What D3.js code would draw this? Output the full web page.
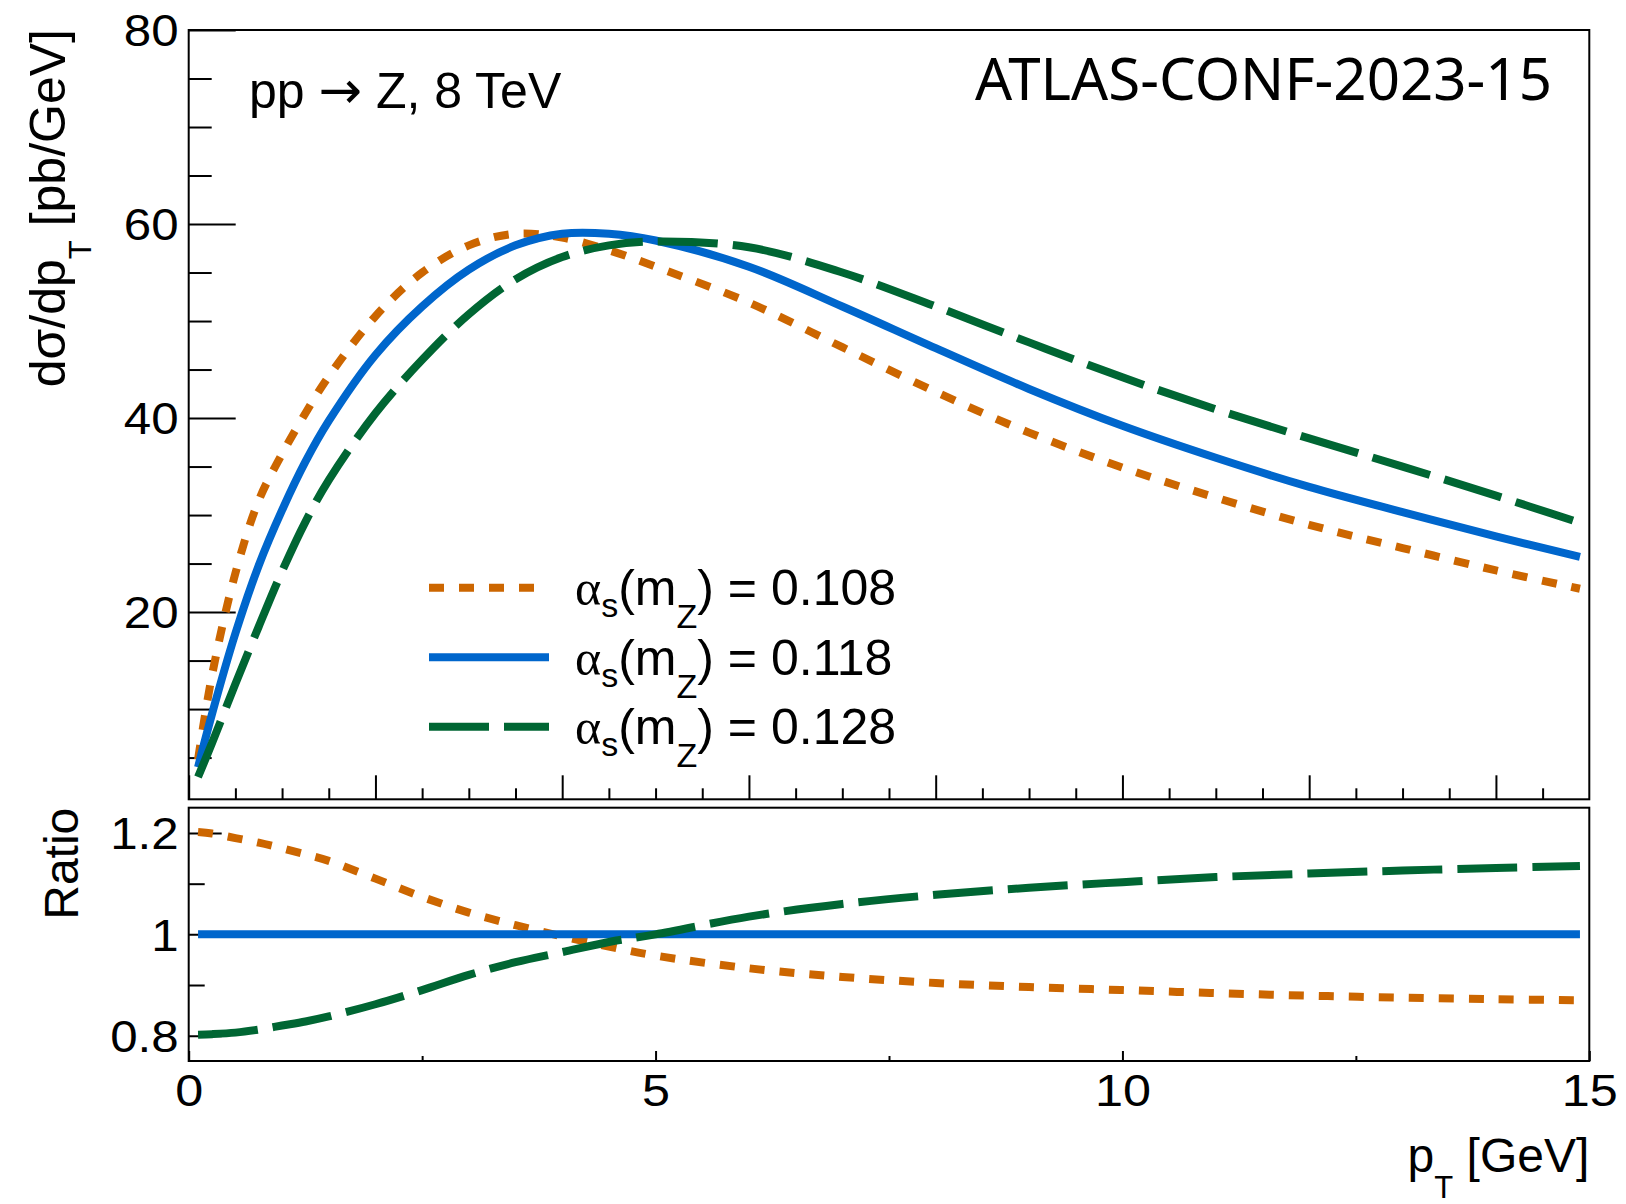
<!DOCTYPE html>
<html>
<head>
<meta charset="utf-8">
<script src="https://cdn.jsdelivr.net/npm/d3@7"></script>
<style>
  body { margin: 0; background: #fff; }
  svg { display: block; }
  text { font-family: "Liberation Sans", Arial, Helvetica, sans-serif; fill: #000; }
</style>
</head>
<body>
<div id="chart"></div>
<script>
// ---------- data ----------
const ptGrid   = [0.1, 0.25, 0.5, 0.75, 1, 1.25, 1.5, 2, 2.5, 3, 3.5, 4, 4.5, 5, 6, 7, 8, 9, 10, 11, 12, 13, 14, 14.9];
const sigma108 = [4.8, 13.5, 24.0, 31.5, 36.3, 40.5, 44.3, 50.5, 55.0, 57.8, 59.0, 58.6, 57.3, 55.6, 51.9, 47.3, 42.7, 38.5, 34.9, 31.8, 29.0, 26.6, 24.3, 22.4];
const sigma118 = [4.0, 9.5, 17.8, 24.8, 30.5, 35.5, 39.7, 46.5, 51.5, 55.3, 57.8, 59.0, 59.0, 58.3, 55.6, 51.5, 47.2, 43.0, 39.2, 35.9, 32.9, 30.3, 27.8, 25.7];
const sigma128 = [3.0, 6.5, 12.6, 18.5, 24.2, 29.3, 33.6, 40.5, 46.0, 50.7, 54.3, 56.6, 57.8, 58.2, 57.6, 55.0, 51.5, 47.8, 44.2, 40.9, 37.9, 35.0, 32.0, 29.2];
const ratio108 = [1.202, 1.199, 1.19, 1.181, 1.17, 1.158, 1.145, 1.11, 1.074, 1.043, 1.018, 0.996, 0.976, 0.958, 0.933, 0.916, 0.904, 0.896, 0.89, 0.884, 0.879, 0.875, 0.872, 0.870];
const ratio118 = [1, 1, 1, 1, 1, 1, 1, 1, 1, 1, 1, 1, 1, 1, 1, 1, 1, 1, 1, 1, 1, 1, 1, 1];
const ratio128 = [0.802, 0.803, 0.806, 0.812, 0.82, 0.828, 0.838, 0.862, 0.89, 0.92, 0.945, 0.965, 0.985, 1.0, 1.035, 1.06, 1.078, 1.092, 1.103, 1.113, 1.12, 1.126, 1.131, 1.135];

const alphaValues = ["0.108", "0.118", "0.128"];
const seriesColors = ["#cc6600", "#0066cc", "#006633"];
const seriesDash   = ["15,15", null, "60,15"];

const yTopMajor = [20, 40, 60, 80];
const yTopMinor = d3.range(5, 80, 5).filter(v => v % 20 !== 0);
const xTopMajor = d3.range(0, 15, 2);
const xTopMinor = d3.range(0.5, 15, 0.5).filter(v => v % 2 !== 0);
const yRatioMajor = [0.8, 1, 1.2];
const yRatioMinor = [0.9, 1.1];
const xRatioMajor = [0, 5, 10, 15];
const xRatioMinor = [2.5, 7.5, 12.5];

// ---------- layout ----------
const W = 1626, H = 1204;
const L = 188.7, R = 1589.3;
const topY0 = 30, topY1 = 799.3;
const botY0 = 807.7, botY1 = 1061;
const labelStretch = "scale(1.12,1)";

const svg = d3.select("#chart").append("svg")
  .attr("width", W).attr("height", H);

const x = d3.scaleLinear().domain([0, 15]).range([L, R]);
const yTop = d3.scaleLinear().domain([0.7, 80]).range([topY1, topY0]);
const yBot = d3.scaleLinear().domain([0.75, 1.25]).range([botY1, botY0]);

function styleAxis(g) {
  g.select(".domain").remove();
  g.selectAll(".tick line").attr("stroke", "#000").attr("stroke-width", 2);
}

// top panel ticks
svg.append("g").attr("transform", `translate(${L},0)`)
  .call(d3.axisLeft(yTop).tickValues(yTopMinor).tickSize(-23).tickFormat(""))
  .call(styleAxis);
svg.append("g").attr("transform", `translate(${L},0)`)
  .call(d3.axisLeft(yTop).tickValues(yTopMajor).tickSize(-47).tickPadding(9))
  .call(styleAxis)
  .call(g => g.selectAll("text").attr("font-size", 44).attr("dy", "0.36em")
    .attr("transform", labelStretch)
    .style("font-family", "Liberation Sans, Arial, sans-serif"));
svg.append("g").attr("transform", `translate(0,${topY1})`)
  .call(d3.axisBottom(x).tickValues(xTopMinor).tickSize(-11).tickFormat(""))
  .call(styleAxis);
svg.append("g").attr("transform", `translate(0,${topY1})`)
  .call(d3.axisBottom(x).tickValues(xTopMajor).tickSize(-24).tickFormat(""))
  .call(styleAxis);

// ratio panel ticks
svg.append("g").attr("transform", `translate(${L},0)`)
  .call(d3.axisLeft(yBot).tickValues(yRatioMinor).tickSize(-16).tickFormat(""))
  .call(styleAxis);
svg.append("g").attr("transform", `translate(${L},0)`)
  .call(d3.axisLeft(yBot).tickValues(yRatioMajor).tickSize(-33).tickPadding(9).tickFormat(d3.format("")))
  .call(styleAxis)
  .call(g => g.selectAll("text").attr("font-size", 44).attr("dy", "0.36em")
    .attr("transform", labelStretch)
    .style("font-family", "Liberation Sans, Arial, sans-serif"));
svg.append("g").attr("transform", `translate(0,${botY1})`)
  .call(d3.axisBottom(x).tickValues(xRatioMinor).tickSize(-5).tickFormat(""))
  .call(styleAxis);
svg.append("g").attr("transform", `translate(0,${botY1})`)
  .call(d3.axisBottom(x).tickValues(xRatioMajor).tickSize(-10).tickPadding(0))
  .call(styleAxis)
  .call(g => g.selectAll("text").attr("font-size", 45).attr("y", 45).attr("dy", 0)
    .attr("transform", labelStretch)
    .style("font-family", "Liberation Sans, Arial, sans-serif"));

// ---------- curves ----------
const line = (yScale) => d3.line()
  .x(d => x(d[0])).y(d => yScale(d[1]))
  .curve(d3.curveCatmullRom.alpha(0.5));

const topSeries = [sigma108, sigma118, sigma128];
const ratioSeries = [ratio108, ratio118, ratio128];

svg.append("clipPath").attr("id", "clipTop")
  .append("rect").attr("x", L).attr("y", topY0).attr("width", R - L).attr("height", topY1 - topY0);
svg.append("clipPath").attr("id", "clipBot")
  .append("rect").attr("x", L).attr("y", botY0).attr("width", R - L).attr("height", botY1 - botY0);

const gTop = svg.append("g").attr("clip-path", "url(#clipTop)");
topSeries.forEach((vals, i) => {
  gTop.append("path")
    .datum(ptGrid.map((p, k) => [p, vals[k]]))
    .attr("d", line(yTop))
    .attr("fill", "none")
    .attr("stroke", seriesColors[i])
    .attr("stroke-width", 8)
    .attr("stroke-dasharray", seriesDash[i]);
});

const gBot = svg.append("g").attr("clip-path", "url(#clipBot)");
ratioSeries.forEach((vals, i) => {
  gBot.append("path")
    .datum(ptGrid.map((p, k) => [p, vals[k]]))
    .attr("d", line(yBot))
    .attr("fill", "none")
    .attr("stroke", seriesColors[i])
    .attr("stroke-width", 8)
    .attr("stroke-dasharray", seriesDash[i]);
});

// frames
svg.append("rect").attr("x", L).attr("y", topY0).attr("width", R - L).attr("height", topY1 - topY0)
  .attr("fill", "none").attr("stroke", "#000").attr("stroke-width", 2);
svg.append("rect").attr("x", L).attr("y", botY0).attr("width", R - L).attr("height", botY1 - botY0)
  .attr("fill", "none").attr("stroke", "#000").attr("stroke-width", 2);

// ---------- axis titles ----------
const yTitle = svg.append("text")
  .attr("transform", `translate(64.5,${topY0 - 1}) rotate(-90)`)
  .attr("text-anchor", "end")
  .attr("font-size", 50);
yTitle.append("tspan").text("dσ/dp");
yTitle.append("tspan").attr("font-size", 31).attr("dy", 26).text("T");
yTitle.append("tspan").attr("dy", -26).text(" [pb/GeV]");

svg.append("text")
  .attr("transform", `translate(78,${botY0}) rotate(-90)`)
  .attr("text-anchor", "end")
  .attr("font-size", 48)
  .text("Ratio");

const xTitle = svg.append("text")
  .attr("x", R).attr("y", 1172)
  .attr("text-anchor", "end")
  .attr("font-size", 48);
xTitle.append("tspan").text("p");
xTitle.append("tspan").attr("font-size", 31).attr("dy", 26).text("T");
xTitle.append("tspan").attr("dy", -26).text(" [GeV]");

// ---------- labels ----------
const proc = svg.append("text").attr("x", 249).attr("y", 108).attr("font-size", 50);
proc.append("tspan").text("pp ");
proc.append("tspan").style("font-family", "'DejaVu Sans', sans-serif").attr("font-size", 52).text("→");
proc.append("tspan").text(" Z, 8 TeV");

svg.append("text").attr("x", 975).attr("y", 100)
  .style("font-family", "'Noto Sans', 'Open Sans', sans-serif")
  .attr("font-size", 58)
  .attr("textLength", 577).attr("lengthAdjust", "spacingAndGlyphs")
  .text("ATLAS-CONF-2023-15");

// ---------- legend ----------
const legX0 = 429, legX1 = 549, legY0 = 587.7, legDy = 69.5;
alphaValues.forEach((a, i) => {
  const ly = legY0 + i * legDy;
  svg.append("line")
    .attr("x1", legX0).attr("x2", legX1).attr("y1", ly).attr("y2", ly)
    .attr("stroke", seriesColors[i]).attr("stroke-width", 8)
    .attr("stroke-dasharray", seriesDash[i]);
  const t = svg.append("text").attr("x", 575).attr("y", ly + 17.3).attr("font-size", 50);
  t.append("tspan").style("font-family", "'Liberation Serif', 'Times New Roman', serif").text("α");
  t.append("tspan").attr("font-size", 34).attr("dy", 12).text("s");
  t.append("tspan").attr("dy", -12).text("(m");
  t.append("tspan").attr("font-size", 34).attr("dy", 23).text("Z");
  t.append("tspan").attr("dy", -23).text(`) = ${a}`);
});
</script>
</body>
</html>
